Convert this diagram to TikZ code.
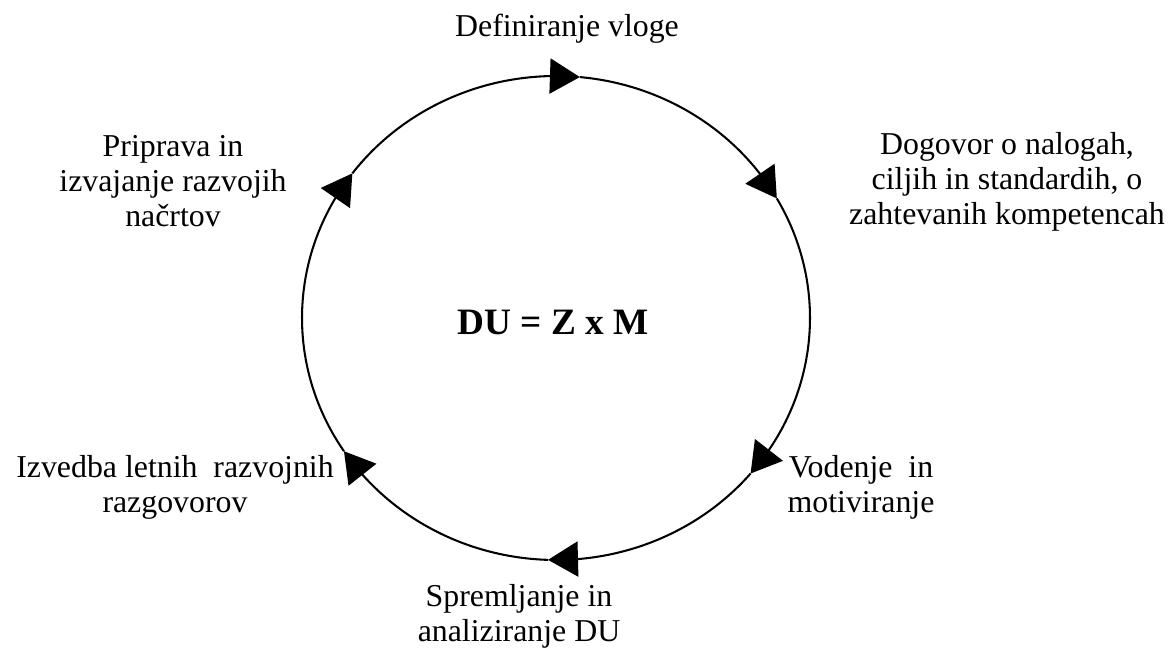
\documentclass[tikz,border=0pt]{standalone}
\usepackage{fontspec}
\setmainfont{Liberation Serif}
\usetikzlibrary{positioning,arrows.meta,bending}

\begin{document}
\begin{tikzpicture}
    [
    x=0.01369cm, y=0.01369cm,
    basic/.style={align=center, inner sep=0pt, font=\fontsize{12.4}{13.6}\selectfont},
    formula/.style={inner sep=0pt, font=\fontsize{14.5}{16}\selectfont\bfseries},
    lok/.style={line width=0.8pt, -{Triangle[length=0.41cm, width=0.48cm]}},
    ]
    \useasboundingbox (0,0) rectangle (1169,648);

    % Tocke na krogu
    \coordinate (c) at (556,330);
    \path (c) ++(84.6:254 and 242) coordinate (dv);
    \path (c) ++(29.6:254 and 242) coordinate (dn);
    \path (c) ++(-40:254 and 242) coordinate (vm);
    \path (c) ++(-91.8:254 and 242) coordinate (sa);
    \path (c) ++(-146.6:254 and 242) coordinate (il);
    \path (c) ++(143.3:254 and 242) coordinate (pi);
    % Krog s puscicami
    \draw [lok] (pi) arc [start angle=143.3, end angle=84.6, x radius=254, y radius=242];
    \draw [lok] (dv) arc [start angle=84.6, end angle=29.6, x radius=254, y radius=242];
    \draw [lok] (dn) arc [start angle=29.6, end angle=-40, x radius=254, y radius=242];
    \draw [lok] (vm) arc [start angle=-40, end angle=-91.8, x radius=254, y radius=242];
    \draw [lok] (sa) arc [start angle=-91.8, end angle=-146.6, x radius=254, y radius=242];
    \draw [lok] (il) arc [start angle=-146.6, end angle=-216.7, x radius=254, y radius=242];

    % Sredina
    \node [formula, anchor=base] (du) at (553,313) {DU = Z x M};
    % Besedila
    \node [basic, anchor=base] (dvt) at (567,611) {Definiranje vloge};
    \node [basic] (dnt) at (1007,466) {Dogovor o nalogah,\\ciljih in standardih, o\\zahtevanih kompetencah};
    \node [basic] (vmt) at (861,161) {Vodenje~ in\\motiviranje};
    \node [basic] (sat) at (519,32) {Spremljanje in\\analiziranje DU};
    \node [basic] (ilt) at (175,161) {Izvedba letnih~ razvojnih\\razgovorov};
    \node [basic] (pit) at (173,467) {Priprava in\\izvajanje razvojih\\načrtov};
\end{tikzpicture}
\end{document}
